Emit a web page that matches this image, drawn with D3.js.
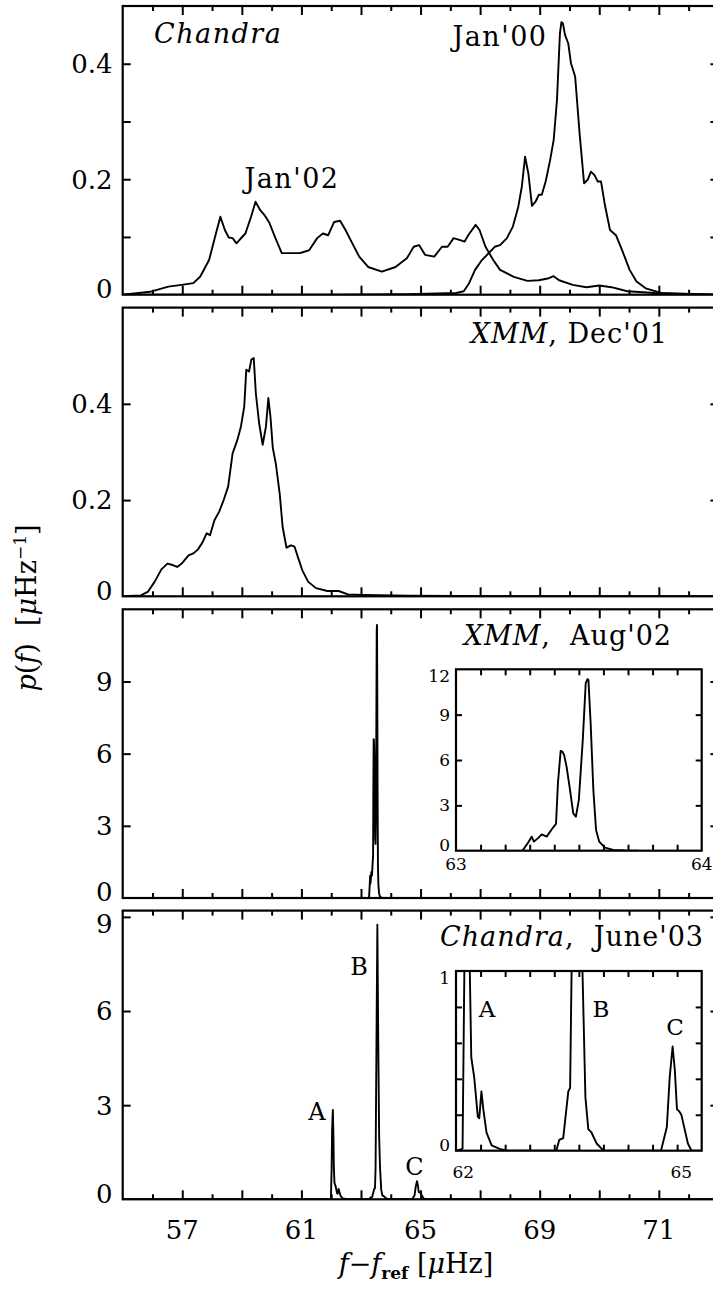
<!DOCTYPE html>
<html>
<head>
<meta charset="utf-8">
<script src="https://cdn.jsdelivr.net/npm/d3@7"></script>
<style>
body { margin: 0; background: #fff; }
text { font-family: "DejaVu Serif", serif; fill: #000; }
</style>
</head>
<body>
<script>
// spectra: [f - f_ref (uHz), p(f)]
var jan02 = [[55.0,0],[55.92,0.005],[56.53,0.014],[56.98,0.017],[57.37,0.02],[57.6,0.031],[57.9,0.06],[58.13,0.106],
  [58.28,0.135],[58.43,0.112],[58.56,0.099],[58.69,0.098],[58.82,0.089],[58.94,0.096],[59.12,0.106],[59.31,0.135],
  [59.46,0.161],[59.61,0.147],[59.76,0.138],[59.92,0.125],[60.11,0.1],[60.34,0.072],[60.65,0.072],[60.95,0.072],
  [61.26,0.077],[61.53,0.098],[61.72,0.106],[61.9,0.103],[62.1,0.126],[62.3,0.128],[62.48,0.112],[62.71,0.089],
  [62.94,0.066],[63.24,0.048],[63.7,0.04],[64.16,0.048],[64.54,0.063],[64.77,0.083],[64.95,0.086],[65.15,0.069],
  [65.46,0.066],[65.72,0.083],[65.91,0.083],[66.11,0.098],[66.3,0.095],[66.48,0.092],[66.6,0.103],[66.85,0.121],
  [66.98,0.112],[67.18,0.083],[67.44,0.06],[67.67,0.043],[68.13,0.031],[68.59,0.024],[68.97,0.025],[69.27,0.028],
  [69.47,0.032],[69.65,0.025],[70.11,0.017],[70.57,0.013],[71.0,0.016],[71.41,0.013],[71.94,0.006],[72.86,0.003],[75.0,0]]

var jan00 = [[55,0],[62,0],[64.6,0.001],[66.2,0.003],[66.45,0.006],[66.63,0.02],[66.83,0.043],[67.06,0.06],
  [67.29,0.072],[67.49,0.083],[67.67,0.086],[67.9,0.098],[68.1,0.118],[68.28,0.152],[68.4,0.187],[68.51,0.239],
  [68.62,0.21],[68.74,0.154],[68.86,0.161],[68.97,0.173],[69.07,0.173],[69.2,0.196],[69.35,0.233],[69.47,0.268],
  [69.58,0.337],[69.68,0.453],[69.73,0.472],[69.78,0.47],[69.85,0.45],[69.96,0.435],[70.05,0.401],[70.19,0.378],
  [70.34,0.279],[70.49,0.193],[70.61,0.199],[70.72,0.213],[70.84,0.207],[70.95,0.196],[71.06,0.196],[71.18,0.158],
  [71.36,0.112],[71.56,0.103],[71.79,0.074],[72.02,0.043],[72.25,0.023],[72.56,0.011],[73.16,0.002],[75,0]]

var dec01 = [[55,0],[55.61,0.002],[55.84,0.009],[56.07,0.03],[56.3,0.056],[56.5,0.068],[56.68,0.065],[56.83,0.061],
  [56.98,0.068],[57.21,0.085],[57.37,0.089],[57.52,0.097],[57.67,0.111],[57.82,0.131],[57.93,0.127],[58.08,0.158],
  [58.24,0.176],[58.39,0.2],[58.54,0.228],[58.69,0.297],[58.85,0.325],[58.97,0.353],[59.08,0.394],[59.15,0.471],
  [59.24,0.467],[59.32,0.492],[59.4,0.495],[59.47,0.422],[59.58,0.36],[59.7,0.315],[59.81,0.353],[59.89,0.412],
  [59.96,0.374],[60.04,0.308],[60.14,0.276],[60.27,0.214],[60.37,0.144],[60.5,0.101],[60.65,0.106],[60.77,0.103],
  [60.88,0.082],[61.03,0.054],[61.23,0.03],[61.49,0.017],[61.87,0.011],[62.25,0.011],[62.56,0.004],[63.09,0.003],
  [64.62,0.001],[67.67,0],[75,0]]

var aug02 = [[63.27,0],[63.29,0.45],[63.308,0.93],[63.317,0.6],[63.335,0.85],[63.349,1.08],[63.369,0.93],[63.39,1.42],
  [63.407,1.77],[63.415,4.5],[63.426,6.6],[63.433,6.55],[63.44,6.34],[63.45,5.56],[63.464,4.02],[63.477,2.48],
  [63.488,2.25],[63.5,3.36],[63.516,7.33],[63.528,11.09],[63.535,11.35],[63.539,11.3],[63.548,8.44],[63.559,4.02],
  [63.57,1.37],[63.583,0.6],[63.606,0.2],[63.64,0.05],[63.69,0.01],[63.742,0]]

var jun03 = [[55,0],[61.9,0],[61.99,0.01],[62.015,1.0],[62.03,2.2],[62.055,2.85],[62.075,2.0],[62.09,1.0],
  [62.11,0.52],[62.15,0.41],[62.2,0.19],[62.22,0.18],[62.25,0.33],[62.276,0.23],[62.32,0.1],[62.39,0.03],
  [62.5,0.01],[62.6,0],[63.28,0],[63.32,0.06],[63.375,0.07],[63.445,0.33],[63.47,0.35],[63.49,1.0],[63.52,5.0],
  [63.55,8.75],[63.58,5.0],[63.61,2.0],[63.64,1.0],[63.68,0.3],[63.72,0.12],[63.765,0.1],[63.835,0.04],[63.93,0],
  [64.72,0],[64.8,0.13],[64.84,0.41],[64.88,0.58],[64.91,0.45],[64.94,0.23],[64.97,0.22],[65.0,0.2],[65.045,0.12],
  [65.09,0.04],[65.14,0],[75,0]]

// axes
var xTickLabels = ['57', '61', '65', '69', '71']
var xTickLabelPos = [57, 61, 65, 69, 73]
var panelYMax = [0.5, 0.6, 12, 9.2]
var panelYTicks = [[0.1, 0.2, 0.3, 0.4], [0.2, 0.4], [3, 6, 9], [3, 6, 9]]
var panelYLabels = [[0, 0.2, 0.4], [0, 0.2, 0.4], [0, 3, 6, 9], [0, 3, 6, 9]]
var panelSeries = [[jan02, jan00], [dec01], [aug02], [jun03]]

var width = 713
var height = 1290

var svg = d3.select('body').append('svg')
    .attr('width', width)
    .attr('height', height)

var x = d3.scaleLinear().domain([55, 75]).range([122.7, 718.4])
var panelTop = [6, 307.6, 609.3, 910.6]
var panelH = 288.7

var line = d3.line()

function ticksOn(g, axis) {
    g.call(axis)
    g.select('.domain').remove()
    g.selectAll('.tick line').attr('stroke', '#000').attr('stroke-width', 2)
    g.selectAll('.tick text').remove()
}

function drawFrame(g, x0, y0, x1, y1) {
    g.append('rect')
        .attr('x', x0).attr('y', y0)
        .attr('width', x1 - x0).attr('height', y1 - y0)
        .attr('fill', 'none')
        .attr('stroke', '#000')
        .attr('stroke-width', 2.2)
}

function drawPanel(i) {
    var top = panelTop[i]
    var bottom = top + panelH
    var y = d3.scaleLinear().domain([0, panelYMax[i]]).range([bottom, top])
    var g = svg.append('g').attr('class', 'panel')

    g.append('clipPath').attr('id', 'clip' + i)
        .append('rect')
        .attr('x', x.range()[0]).attr('y', top)
        .attr('width', x.range()[1] - x.range()[0]).attr('height', panelH)

    var majors = d3.range(57, 75, 2)
    var minors = d3.range(56, 75, 2)
    ticksOn(g.append('g').attr('transform', 'translate(0,' + bottom + ')'),
        d3.axisBottom(x).tickValues(majors).tickSize(-9))
    ticksOn(g.append('g').attr('transform', 'translate(0,' + bottom + ')'),
        d3.axisBottom(x).tickValues(minors).tickSize(-5))
    ticksOn(g.append('g').attr('transform', 'translate(0,' + top + ')'),
        d3.axisTop(x).tickValues(majors).tickSize(-9))
    ticksOn(g.append('g').attr('transform', 'translate(0,' + top + ')'),
        d3.axisTop(x).tickValues(minors).tickSize(-5))
    ticksOn(g.append('g').attr('transform', 'translate(' + x.range()[0] + ',0)'),
        d3.axisLeft(y).tickValues(panelYTicks[i]).tickSize(-8))
    ticksOn(g.append('g').attr('transform', 'translate(' + x.range()[1] + ',0)'),
        d3.axisRight(y).tickValues(panelYTicks[i]).tickSize(-8))

    g.selectAll('text.ylab')
        .data(panelYLabels[i])
        .enter()
        .append('text')
        .attr('class', 'ylab')
        .attr('x', 112.5)
        .attr('y', d => Math.min(bottom - 6, Math.max(top + 13, y(d))))
        .attr('dy', '0.36em')
        .attr('text-anchor', 'end')
        .style('font-size', '26px')
        .text(d => d)

    panelSeries[i].forEach(function(s) {
        g.append('path')
            .datum(s)
            .attr('clip-path', 'url(#clip' + i + ')')
            .attr('fill', 'none')
            .attr('stroke', '#000')
            .attr('stroke-width', 1.9)
            .attr('stroke-linejoin', 'round')
            .attr('d', line.x(d => x(d[0])).y(d => y(d[1])))
    })

    drawFrame(g, x.range()[0], top, x.range()[1], bottom)
    return g
}

function drawInset(id, series, xDomain, yMax, yTicks, yLabels, xLabels, box, xLabelY) {
    var ix = d3.scaleLinear().domain(xDomain).range([box[0], box[2]])
    var iy = d3.scaleLinear().domain([0, yMax]).range([box[3], box[1]])
    var g = svg.append('g').attr('class', 'inset')

    g.append('rect')
        .attr('x', box[0]).attr('y', box[1])
        .attr('width', box[2] - box[0]).attr('height', box[3] - box[1])
        .attr('fill', '#fff')

    g.append('clipPath').attr('id', id)
        .append('rect')
        .attr('x', box[0]).attr('y', box[1])
        .attr('width', box[2] - box[0]).attr('height', box[3] - box[1])

    // ten equal tick intervals along the frame
    var span = xDomain[1] - xDomain[0]
    var xt = d3.range(1, 10).map(k => xDomain[0] + k * span / 10)
    ticksOn(g.append('g').attr('transform', 'translate(0,' + box[3] + ')'),
        d3.axisBottom(ix).tickValues(xt).tickSize(-6))
    ticksOn(g.append('g').attr('transform', 'translate(0,' + box[1] + ')'),
        d3.axisTop(ix).tickValues(xt).tickSize(-6))
    ticksOn(g.append('g').attr('transform', 'translate(' + box[0] + ',0)'),
        d3.axisLeft(iy).tickValues(yTicks).tickSize(-6))
    ticksOn(g.append('g').attr('transform', 'translate(' + box[2] + ',0)'),
        d3.axisRight(iy).tickValues(yTicks).tickSize(-6))

    g.append('path')
        .datum(series)
        .attr('clip-path', 'url(#' + id + ')')
        .attr('fill', 'none')
        .attr('stroke', '#000')
        .attr('stroke-width', 1.9)
        .attr('stroke-linejoin', 'round')
        .attr('d', d3.line().x(d => ix(d[0])).y(d => iy(d[1])))

    g.selectAll('text.iyl')
        .data(yLabels)
        .enter()
        .append('text')
        .attr('class', 'iyl')
        .attr('x', box[0] - 6)
        .attr('y', d => Math.min(box[3] - 6, Math.max(box[1] + 7, iy(d))))
        .attr('dy', '0.36em')
        .attr('text-anchor', 'end')
        .style('font-size', '17px')
        .text(d => d)

    g.selectAll('text.ixl')
        .data(xLabels)
        .enter()
        .append('text')
        .attr('class', 'ixl')
        .attr('x', d => ix(d))
        .attr('y', xLabelY)
        .attr('text-anchor', 'middle')
        .style('font-size', '17px')
        .text(d => d)

    drawFrame(g, box[0], box[1], box[2], box[3])
    return { g: g, x: ix, y: iy }
}

for (var i = 0; i < 4; i++) drawPanel(i)

// bottom axis labels
svg.selectAll('text.xlab')
    .data(xTickLabelPos)
    .enter()
    .append('text')
    .attr('class', 'xlab')
    .attr('x', d => x(d))
    .attr('y', 1239)
    .attr('text-anchor', 'middle')
    .style('font-size', '26px')
    .text((d, i) => xTickLabels[i])

var augInset = drawInset('clipAug', aug02, [63, 64], 12, [3, 6, 9], [0, 3, 6, 9, 12], [63, 64],
    [456, 669.3, 701.7, 850.7], 870)
var junInset = drawInset('clipJun', jun03, [61.9, 65.28], 1, [0.2, 0.4, 0.6, 0.8], [0, 1], [62, 65],
    [456, 971, 701.7, 1150.7], 1178)

function label(parts, px, py, size, anchor, spacing) {
    var t = svg.append('text')
        .attr('x', px).attr('y', py)
        .attr('text-anchor', anchor || 'start')
        .style('font-size', size + 'px')
        .style('letter-spacing', (spacing || 0) + 'px')
        .attr('xml:space', 'preserve')
    parts.forEach(function(p) {
        t.append('tspan')
            .style('font-style', p[1] ? 'italic' : 'normal')
            .text(p[0])
    })
    return t
}

label([['Chandra', 1]], 154, 43, 27, 'start', 1.5)
label([["Jan'00", 0]], 500, 46, 27, 'middle', 1.5)
label([["Jan'02", 0]], 292, 188, 27, 'middle', 1.5)
label([['XMM', 1], [", Dec'01", 0]], 668, 343, 27, 'end', 1)
label([['XMM', 1], [",  Aug'02", 0]], 672, 645, 27, 'end', 1)
label([['Chandra', 1], [",  June'03", 0]], 704, 946, 27, 'end', 1)
label([['A', 0]], 317, 1120, 24, 'middle')
label([['B', 0]], 359, 975, 24, 'middle')
label([['C', 0]], 414.5, 1175, 24, 'middle')
label([['A', 0]], 487, 1017, 23, 'middle')
label([['B', 0]], 601, 1017, 23, 'middle')
label([['C', 0]], 675, 1035, 23, 'middle')

// axis titles
var xt = svg.append('text')
    .attr('x', 416).attr('y', 1273)
    .attr('text-anchor', 'middle')
    .style('font-size', '27px')
    .attr('xml:space', 'preserve')
xt.append('tspan').style('font-style', 'italic').text('f')
xt.append('tspan').text('\u2212')
xt.append('tspan').style('font-style', 'italic').text('f')
xt.append('tspan').attr('dy', 6).style('font-size', '17px').style('font-weight', 'bold').text('ref')
xt.append('tspan').attr('dy', -6).text(' [')
xt.append('tspan').style('font-style', 'italic').text('\u03bc')
xt.append('tspan').text('Hz]')

var yt = svg.append('text')
    .attr('transform', 'translate(36,608) rotate(-90)')
    .attr('text-anchor', 'middle')
    .style('font-size', '27px')
    .attr('xml:space', 'preserve')
yt.append('tspan').style('font-style', 'italic').text('p')
yt.append('tspan').text('(')
yt.append('tspan').style('font-style', 'italic').text('f')
yt.append('tspan').text(')  [')
yt.append('tspan').style('font-style', 'italic').text('\u03bc')
yt.append('tspan').text('Hz')
yt.append('tspan').attr('dy', -10).style('font-size', '17px').text('\u22121')
yt.append('tspan').attr('dy', 10).text(']')
</script>
</body>
</html>
